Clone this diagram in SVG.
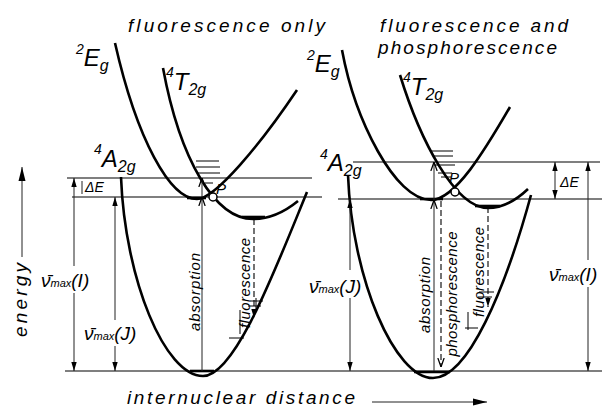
<svg xmlns="http://www.w3.org/2000/svg" width="602" height="411" viewBox="0 0 602 411">
<style>
text{font-family:"Liberation Sans",Arial,sans-serif;font-style:italic;fill:#000}
.title{font-size:19px}
.st{font-size:24px}
.sup{font-size:14px}
.sub{font-size:16px}
.rot{font-size:15px}
.nu{font-size:19px}
.small{font-size:11px}
.curve{fill:none;stroke:#000;stroke-width:2.6}
.hl{stroke:#000;stroke-width:1.2;fill:none}
.vl{stroke:#222;stroke-width:1;fill:none}
.dash{stroke:#000;stroke-width:1.1;stroke-dasharray:6 3;fill:none}
.lev{stroke:#000;stroke-width:1;fill:none}
.v0{stroke:#000;stroke-width:2.6;fill:none}
.pt{fill:#fff;stroke:#000;stroke-width:1.5}
</style>
<defs>
<marker id="ah" viewBox="0 0 10 10" refX="10" refY="5" markerWidth="9" markerHeight="9" markerUnits="userSpaceOnUse" orient="auto-start-reverse"><path d="M0,2 L10,5 L0,8 z" fill="#000"/></marker>
<marker id="big" viewBox="0 0 10 10" refX="10" refY="5" markerWidth="14" markerHeight="14" markerUnits="userSpaceOnUse" orient="auto"><path d="M0,2.5 L10,5 L0,7.5 z" fill="#000"/></marker>
<marker id="oh" viewBox="0 0 10 10" refX="10" refY="5" markerWidth="9" markerHeight="9" markerUnits="userSpaceOnUse" orient="auto"><path d="M0,1.5 L10,5 L0,8.5" fill="none" stroke="#000" stroke-width="1.4"/></marker>
</defs>

<g id="titles">
<text class="title" x="128" y="32" textLength="197" lengthAdjust="spacing">fluorescence only</text>
<text class="title" x="380" y="32" textLength="188" lengthAdjust="spacing">fluorescence and</text>
<text class="title" x="378" y="54" textLength="179" lengthAdjust="spacing">phosphorescence</text>
</g>

<g id="axes">
<line class="vl" x1="22" y1="257" x2="22" y2="167" stroke-width="1.3" marker-end="url(#big)"/>
<text class="title" transform="rotate(-90 27 300)" x="27" y="300" text-anchor="middle" font-size="23" textLength="74" lengthAdjust="spacing">energy</text>
<line class="vl" x1="372" y1="402" x2="487" y2="402" stroke-width="1.4" marker-end="url(#big)"/>
<text class="title" x="127" y="404" textLength="228" lengthAdjust="spacing">internuclear distance</text>
</g>

<g id="levels">
<path class="hl" d="M67,178 H312 M72,197 H322 M65,371 H602 M353,162 H600 M338,199 H602"/>
</g>

<g id="left-diagram">
<g id="left-A2g">
<path class="curve" d="M121,177 C125,280 165,376 203,376 C235,376 275,270 307,192"/>
<path class="v0" d="M190,371 H214"/>
<text x="94" y="154"><tspan class="sup">4</tspan><tspan class="st" dy="13">A</tspan><tspan class="sub" dy="5">2g</tspan></text>
</g>
<g id="left-Eg">
<path class="curve" d="M115,43 C137,140 170,199 197,199 C215,199 260,145 297,90"/>
<path class="v0" d="M187,198 H206"/>
<text x="76" y="54"><tspan class="sup">2</tspan><tspan class="st" dy="12">E</tspan><tspan class="sub" dy="5">g</tspan></text>
</g>
<g id="left-T2g">
<path class="curve" d="M163,68 C180,160 215,219 253,219 Q276,219 298,201"/>
<path class="v0" d="M242,217 H265"/>
<path class="lev" d="M196,161 H219 M196,167 H220 M198,173 H220 M205,183 H213"/>
<text x="166" y="77"><tspan class="sup">4</tspan><tspan class="st" dy="13">T</tspan><tspan class="sub" dy="5">2g</tspan></text>
</g>
<g id="left-P">
<circle class="pt" cx="213" cy="197" r="4"/>
<text x="216" y="194" font-size="15">P</text>
</g>
<path class="lev" d="M250,301 H263 M248,306 H261 M256,298 V309 M229,338 H244 M240,310 V334"/>
</g>

<g id="right-diagram">
<g id="right-A2g">
<path class="curve" d="M348,175 C352,280 395,378 433,378 C468,378 505,290 531,195"/>
<path class="v0" d="M414,372 H450"/>
<text x="320" y="159"><tspan class="sup">4</tspan><tspan class="st" dy="12">A</tspan><tspan class="sub" dy="5">2g</tspan></text>
</g>
<g id="right-Eg">
<path class="curve" d="M342,50 C355,120 395,200 431,200 C455,200 485,150 510,107"/>
<path class="v0" d="M420,199 H443"/>
<text x="307" y="60"><tspan class="sup">2</tspan><tspan class="st" dy="12">E</tspan><tspan class="sub" dy="5">g</tspan></text>
</g>
<g id="right-T2g">
<path class="curve" d="M400,75 C420,140 455,208 488,208 Q508,208 528,189"/>
<path class="v0" d="M475,206 H500"/>
<path class="lev" d="M432,151 H453 M433,156 H453 M434,165 H455 M438,173 H452 M441,177 H451"/>
<text x="403" y="82"><tspan class="sup">4</tspan><tspan class="st" dy="13">T</tspan><tspan class="sub" dy="5">2g</tspan></text>
</g>
<g id="right-P">
<circle class="pt" cx="455" cy="192" r="4"/>
<text x="449" y="183" font-size="15">P</text>
</g>
<path class="lev" d="M479,292 H494 M478,297 H492 M465,328 H478 M468,312 V330"/>
</g>

<g id="connectors">
<line class="vl" x1="74" y1="266" x2="74" y2="178" marker-end="url(#ah)"/>
<line class="vl" x1="74" y1="293" x2="74" y2="371" marker-end="url(#ah)"/>
<line class="vl" x1="82" y1="181" x2="82" y2="194"/>
<line class="vl" x1="115" y1="320" x2="115" y2="197" marker-end="url(#ah)"/>
<line class="vl" x1="115" y1="346" x2="115" y2="371" marker-end="url(#ah)"/>
<line class="vl" x1="202" y1="371" x2="202" y2="197" marker-end="url(#oh)"/>
<line class="vl" x1="202" y1="197" x2="202" y2="178" marker-end="url(#oh)"/>
<line class="dash" x1="254" y1="219" x2="254" y2="318" marker-end="url(#ah)"/>

<line class="vl" x1="350" y1="270" x2="350" y2="199" marker-end="url(#ah)"/>
<line class="vl" x1="350" y1="298" x2="350" y2="371" marker-end="url(#ah)"/>
<line class="vl" x1="434" y1="371" x2="434" y2="200" marker-end="url(#oh)"/>
<line class="vl" x1="434" y1="200" x2="434" y2="162" marker-end="url(#oh)"/>
<line class="dash" x1="441" y1="201" x2="441" y2="367" marker-end="url(#oh)"/>
<line class="dash" x1="488" y1="207" x2="488" y2="307" marker-end="url(#ah)"/>
<line class="vl" x1="555" y1="162" x2="555" y2="199" marker-start="url(#ah)" marker-end="url(#ah)"/>
<line class="vl" x1="588" y1="260" x2="588" y2="162" marker-end="url(#ah)"/>
<line class="vl" x1="588" y1="287" x2="588" y2="371" marker-end="url(#ah)"/>
</g>

<g id="labels">
<text x="85" y="192" font-size="14">ΔE</text>
<text x="560" y="187" font-size="14">ΔE</text>
<text class="nu" x="41" y="287">ν̄<tspan class="small">max</tspan>(I)</text>
<text class="nu" x="84" y="340">ν̄<tspan class="small">max</tspan>(J)</text>
<text class="nu" x="309" y="293">ν̄<tspan class="small">max</tspan>(J)</text>
<text class="nu" x="549" y="281">ν̄<tspan class="small">max</tspan>(I)</text>
<text class="rot" transform="rotate(-90 200 292)" x="200" y="292" text-anchor="middle" textLength="78" lengthAdjust="spacing">absorption</text>
<text class="rot" transform="rotate(-90 250 283)" x="250" y="283" text-anchor="middle" textLength="90" lengthAdjust="spacing">fluorescence</text>
<text class="rot" transform="rotate(-90 430 295)" x="430" y="295" text-anchor="middle" textLength="76" lengthAdjust="spacing">absorption</text>
<text class="rot" transform="rotate(-90 457 294)" x="457" y="294" text-anchor="middle" textLength="125" lengthAdjust="spacing">phosphorescence</text>
<text class="rot" transform="rotate(-90 484 272)" x="484" y="272" text-anchor="middle" textLength="90" lengthAdjust="spacing">fluorescence</text>
</g>
</svg>
